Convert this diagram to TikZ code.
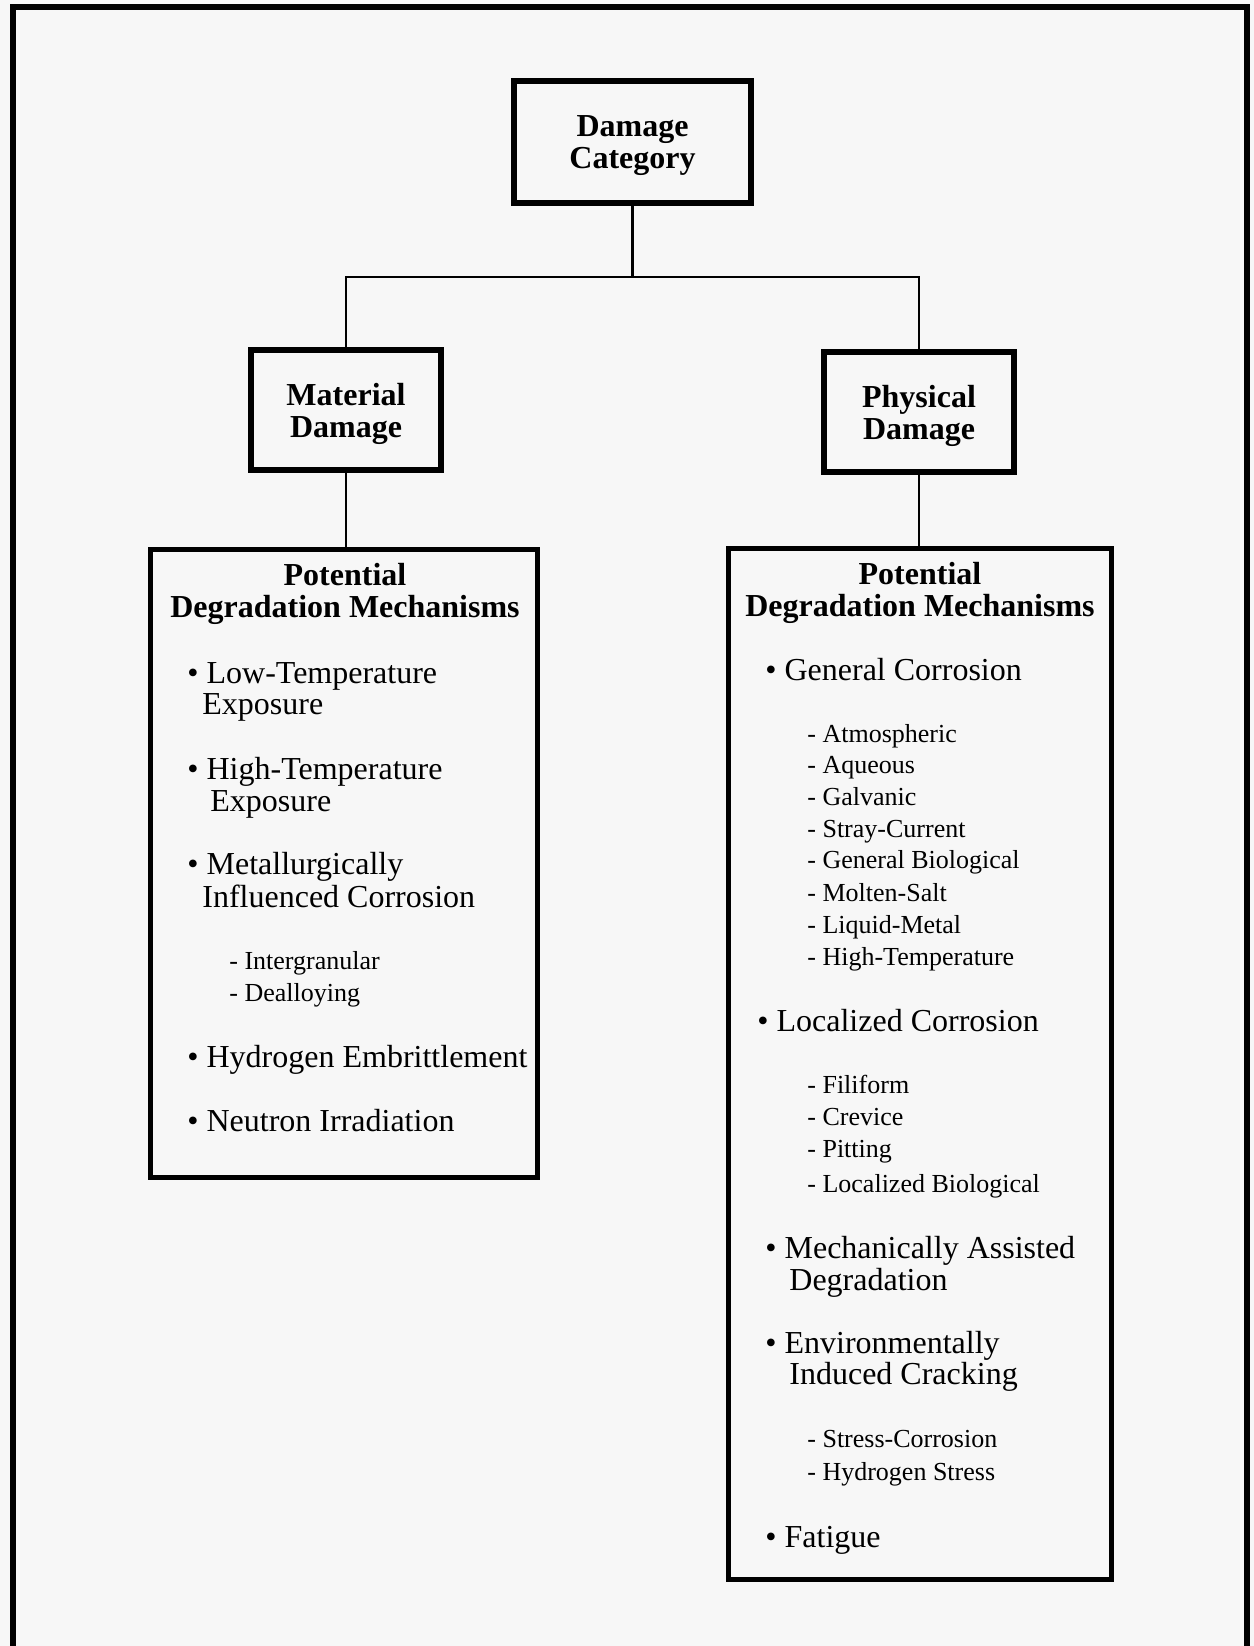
\documentclass[tikz,border=0pt]{standalone}
\usepackage{fontspec}
\setmainfont{Liberation Serif}
\usepackage{xcolor}
\usepackage{tikz}
\usetikzlibrary{positioning,calc}

\definecolor{paper}{RGB}{247,247,247}

\begin{document}
\begin{tikzpicture}[
    x=0.5pt, y=-0.5pt,
    catbox/.style={rectangle, draw, line width=3pt, align=center, inner sep=0pt, text depth=0pt, font=\fontsize{16}{16}\selectfont\bfseries},
    mechbox/.style={rectangle, draw, line width=2.5pt, inner sep=0pt},
    head/.style={anchor=base, align=center, inner sep=0pt, font=\fontsize{16}{16}\selectfont\bfseries},
    item/.style={anchor=base west, inner sep=0pt, font=\fontsize{16}{16}\selectfont},
    subitem/.style={anchor=base west, inner sep=0pt, font=\fontsize{13}{16}\selectfont},
    link/.style={line width=1.25pt},
    frame/.style={line width=3pt, line join=miter}
]

% Page and frame
\useasboundingbox (0,0) rectangle (1254,1646);
\fill[paper] (0,0) rectangle (1254,1646);
\draw[frame] (13,1646) -- (13,7) -- (1247,7) -- (1247,1646);

% Category boxes
\node[catbox, minimum width=118.5pt, minimum height=61pt] (cat) at (632.5,142) {Damage\\Category};
\node[catbox, minimum width=95pt, minimum height=60pt] (mat) at (346,410) {Material\\Damage};
\node[catbox, minimum width=95pt, minimum height=60pt] (phys) at (919,412) {Physical\\Damage};

% Mechanism boxes
\node[mechbox, minimum width=193.5pt, minimum height=314pt] (matmech) at (344,863.5) {};
\node[mechbox, minimum width=191.5pt, minimum height=515.5pt] (physmech) at (920,1064) {};

% Connectors
\coordinate (junc) at (632.5,277);
\draw[link] (cat.south) -- (junc);
\draw[link] (mat.north) |- (junc) -| (phys.north);
\draw[link] (mat.south) -- (mat.south |- matmech.north);
\draw[link] (phys.south) -- (phys.south |- physmech.north);

% Material damage mechanisms
\node[head] (mhead) at (345,617) {Potential\\Degradation Mechanisms};
\node[item] (m1) at (187,683) {• Low-Temperature};
\node[item] (m1b) at (202,714) {Exposure};
\node[item] (m2) at (187,779) {• High-Temperature};
\node[item] (m2b) at (210,811) {Exposure};
\node[item] (m3) at (187,874) {• Metallurgically};
\node[item] (m3b) at (202,907) {Influenced Corrosion};
\node[subitem] (m3s1) at (229,969) {- Intergranular};
\node[subitem] (m3s2) at (229,1001) {- Dealloying};
\node[item] (m4) at (187,1067) {• Hydrogen Embrittlement};
\node[item] (m5) at (187,1131) {• Neutron Irradiation};

% Physical damage mechanisms
\node[head] (phead) at (920,616) {Potential\\Degradation Mechanisms};
\node[item] (p1) at (765,680) {• General Corrosion};
\node[subitem] (p1s1) at (807,742) {- Atmospheric};
\node[subitem] (p1s2) at (807,773) {- Aqueous};
\node[subitem] (p1s3) at (807,805) {- Galvanic};
\node[subitem] (p1s4) at (807,837) {- Stray-Current};
\node[subitem] (p1s5) at (807,868) {- General Biological};
\node[subitem] (p1s6) at (807,901) {- Molten-Salt};
\node[subitem] (p1s7) at (807,933) {- Liquid-Metal};
\node[subitem] (p1s8) at (807,965) {- High-Temperature};
\node[item] (p2) at (757,1031) {• Localized Corrosion};
\node[subitem] (p2s1) at (807,1093) {- Filiform};
\node[subitem] (p2s2) at (807,1125) {- Crevice};
\node[subitem] (p2s3) at (807,1157) {- Pitting};
\node[subitem] (p2s4) at (807,1192) {- Localized Biological};
\node[item] (p3) at (765,1258) {• Mechanically Assisted};
\node[item] (p3b) at (789,1290) {Degradation};
\node[item] (p4) at (765,1353) {• Environmentally};
\node[item] (p4b) at (789,1384) {Induced Cracking};
\node[subitem] (p4s1) at (807,1447) {- Stress-Corrosion};
\node[subitem] (p4s2) at (807,1480) {- Hydrogen Stress};
\node[item] (p5) at (765,1547) {• Fatigue};

\end{tikzpicture}
\end{document}
